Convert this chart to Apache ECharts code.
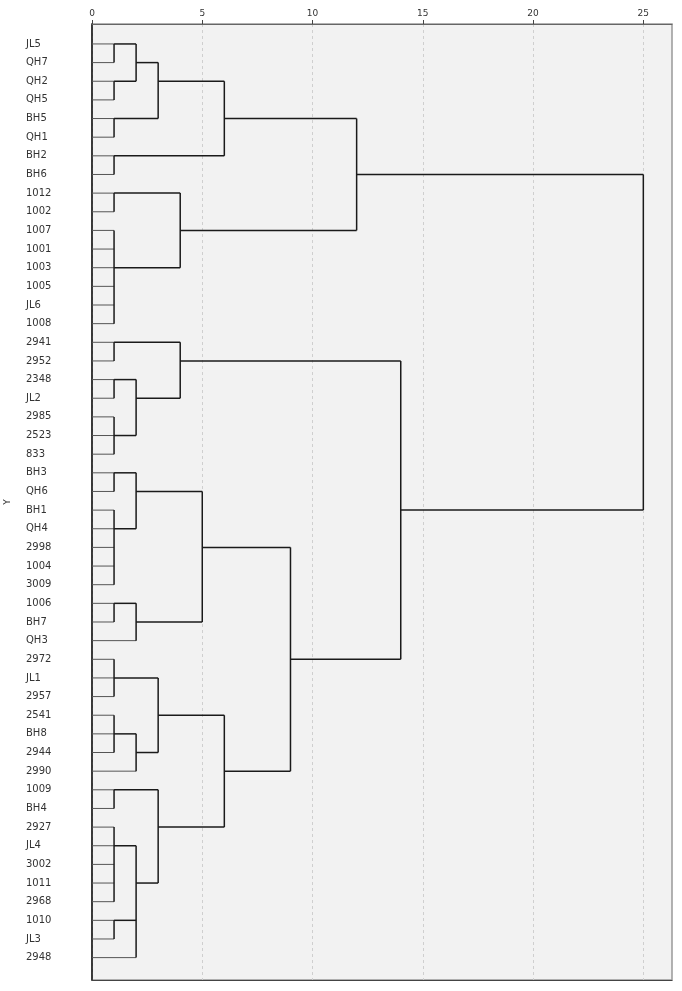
<!DOCTYPE html>
<html>
<head>
<meta charset="utf-8">
<script src="https://cdn.jsdelivr.net/npm/echarts@6/dist/echarts.min.js"></script>
<style>
  html, body { margin: 0; padding: 0; background: #fff; }
  #chart { width: 682px; height: 991px; }
</style>
</head>
<body>
<div id="chart"></div>
<script>
// leaf labels, top to bottom
const labels = ['JL5', 'QH7', 'QH2', 'QH5', 'BH5', 'QH1', 'BH2', 'BH6', '1012', '1002',
  '1007', '1001', '1003', '1005', 'JL6', '1008', '2941', '2952', '2348', 'JL2',
  '2985', '2523', '833', 'BH3', 'QH6', 'BH1', 'QH4', '2998', '1004', '3009',
  '1006', 'BH7', 'QH3', '2972', 'JL1', '2957', '2541', 'BH8', '2944', '2990',
  '1009', 'BH4', '2927', 'JL4', '3002', '1011', '2968', '1010', 'JL3', '2948']

// merges: name, rescaled distance, row where the cluster line leaves, members
// (numbers are leaf rows, strings are earlier merges)
const mergeNames = ['A', 'B', 'C', 'D', 'E', 'F', 'G', 'H', 'I', 'J', 'K',
  'L', 'M', 'N', 'O', 'P', 'Q', 'R', 'S', 'T', 'U', 'V',
  'W', 'X', 'Y', 'Z', 'AA', 'AB', 'AC', 'AD', 'AE', 'AF', 'AG', 'AH', 'ROOT']
const mergeHeights = [1, 1, 2, 1, 3, 1, 6, 1, 1, 4, 12,
  1, 1, 1, 2, 4, 1, 1, 2, 1, 2, 5,
  1, 1, 2, 3, 1, 1, 1, 2, 3, 6, 9, 14, 25]
const mergeRows = [0, 2, 1, 4, 2, 6, 4, 8, 12, 10, 7,
  16, 18, 21, 19, 17, 23, 26, 24, 30, 31, 27,
  34, 37, 38, 36, 40, 43, 47, 45, 42, 39, 33, 25, 16]
const mergeChildren = [[0, 1], [2, 3], ['A', 'B'], [4, 5], ['C', 'D'], [6, 7], ['E', 'F'],
  [8, 9], [10, 11, 12, 13, 14, 15], ['H', 'I'], ['G', 'J'],
  [16, 17], [18, 19], [20, 21, 22], ['M', 'N'], ['L', 'O'],
  [23, 24], [25, 26, 27, 28, 29], ['Q', 'R'], [30, 31], ['T', 32], ['S', 'U'],
  [33, 34, 35], [36, 37, 38], ['X', 39], ['W', 'Y'], [40, 41],
  [42, 43, 44, 45, 46], [47, 48], ['AB', 'AC', 49], ['AA', 'AD'], ['Z', 'AE'],
  ['V', 'AF'], ['P', 'AG'], ['K', 'AH']]

const xTicks = [0, 5, 10, 15, 20, 25]

// build line segments [x1, y1, x2, y2, isLeaf]
const segs = []
mergeNames.forEach(function (name, i) {
  const h = mergeHeights[i]
  const rows = []
  mergeChildren[i].forEach(function (c) {
    let cx, cy, leaf
    if (typeof c === 'number') {
      cx = 0; cy = c; leaf = 1
    } else {
      const j = mergeNames.indexOf(c)
      cx = mergeHeights[j]; cy = mergeRows[j]; leaf = 0
    }
    rows.push(cy)
    segs.push([cx, cy, h, cy, leaf])
  })
  segs.push([h, Math.min.apply(null, rows), h, Math.max.apply(null, rows), 0])
})

const rowValues = labels.map(function (d, i) { return i })

const chart = echarts.init(document.getElementById('chart'))
chart.setOption({
  backgroundColor: '#fff',
  animation: false,
  grid: {
    left: 92,
    right: 10,
    top: 24,
    bottom: 11,
    outerBoundsMode: 'none',
    containLabel: false,
    show: true,
    backgroundColor: '#f2f2f2',
    borderColor: '#999',
    borderWidth: 1.5
  },
  xAxis: [{
    type: 'value',
    position: 'top',
    min: 0,
    max: 26.3,
    interval: 5,
    axisLine: { show: true, onZero: false, lineStyle: { color: '#666', width: 1 } },
    axisTick: { show: true, length: 4, customValues: xTicks, lineStyle: { color: '#444' } },
    axisLabel: {
      customValues: xTicks,
      margin: 6,
      color: '#333',
      fontSize: 9,
      fontFamily: 'DejaVu Sans'
    },
    splitLine: { show: true, lineStyle: { color: '#cfcfcf', type: [3, 3], width: 1 } }
  }, {
    type: 'value',
    position: 'bottom',
    min: 0,
    max: 26.3,
    axisLine: { show: true, onZero: false, lineStyle: { color: '#444', width: 1 } },
    axisTick: { show: false },
    axisLabel: { show: false },
    splitLine: { show: false }
  }],
  yAxis: {
    type: 'value',
    inverse: true,
    min: -1.07,
    max: 50.2,
    name: 'Y',
    nameLocation: 'middle',
    nameGap: 80,
    nameRotate: 90,
    nameTextStyle: { color: '#333', fontSize: 9, fontFamily: 'DejaVu Sans' },
    axisLine: { show: true, onZero: false, lineStyle: { color: '#111', width: 1.5 } },
    axisTick: { show: false },
    splitLine: { show: false },
    axisLabel: {
      customValues: rowValues,
      formatter: function (v) { return labels[Math.round(v)] },
      align: 'left',
      margin: 66,
      color: '#333',
      fontSize: 10,
      fontFamily: 'DejaVu Sans'
    }
  },
  series: [{
    type: 'custom',
    xAxisIndex: 0,
    data: segs,
    encode: { x: [0, 2], y: [1, 3] },
    renderItem: function (params, api) {
      const p1 = api.coord([api.value(0), api.value(1)])
      const p2 = api.coord([api.value(2), api.value(3)])
      const leaf = api.value(4) === 1
      return {
        type: 'line',
        shape: { x1: p1[0], y1: p1[1], x2: p2[0], y2: p2[1] },
        style: { stroke: leaf ? '#555' : '#1a1a1a', lineWidth: leaf ? 1 : 1.5 }
      }
    }
  }]
})
</script>
</body>
</html>
